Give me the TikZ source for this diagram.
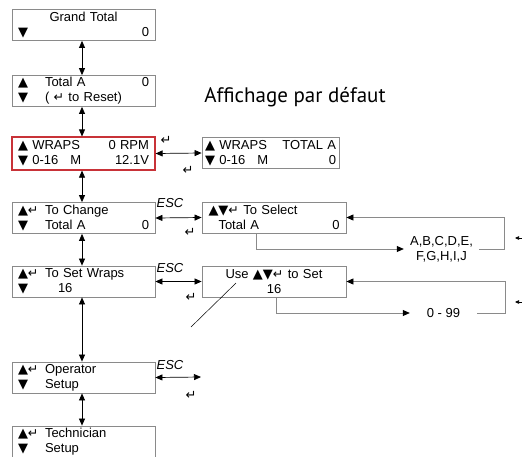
\documentclass[tikz,border=0pt]{standalone}
\usepackage{fontspec}
\setmainfont{Liberation Sans}
\newfontfamily\glyphfont{DejaVu Sans}
\newfontfamily\titlefont{PT Sans}
\usetikzlibrary{arrows.meta}

\definecolor{boxgray}{RGB}{138,138,138}
\definecolor{wrapred}{RGB}{200,50,56}

\newcommand\tup{{\glyphfont\fontsize{13}{13}\selectfont ▲}}
\newcommand\tdn{{\glyphfont\fontsize{13}{13}\selectfont ▼}}
\newcommand\ret{{\glyphfont\fontsize{12.5}{12.5}\selectfont ↵}}
\newcommand\col[1]{\makebox[27pt][l]{#1}}

\tikzset{
  lcd/.style={draw=boxgray, line width=0.8pt, text width=131pt, minimum height=31pt,
    inner xsep=6pt, inner ysep=1pt, align=left, font=\fontsize{13}{15}\selectfont},
  nav/.style={line width=0.7pt, {Triangle[length=7pt,width=6pt]}-{Triangle[length=7pt,width=6pt]}},
  loopline/.style={draw=boxgray, line width=0.8pt},
  tip/.style={-{Triangle[length=7pt,width=6pt,color=black]}},
  esc/.style={font=\fontsize{13}{13}\selectfont\itshape, inner sep=0pt},
  enter/.style={inner sep=0pt, font=\glyphfont\fontsize{13}{13}\selectfont},
  choice/.style={font=\fontsize{13}{15}\selectfont, align=center, inner ysep=1pt}
}

\begin{document}
\begin{tikzpicture}[x=1pt,y=-1pt]
  \useasboundingbox (0,0) rectangle (522,456);

  % left column of screens
  \node[lcd] (gt) at (83.5,25) {\makebox[\linewidth]{Grand Total}\\\tdn\hfill 0};
  \node[lcd] (ta) at (83.5,91) {\col{\tup}Total A\hfill 0\\\col{\tdn}( \ret\ to Reset)};
  \node[lcd, draw=wrapred, line width=1.2pt, minimum height=33pt] (wr) at (83.5,153.5)
    {\tup\ WRAPS\hfill 0 RPM\\\tdn\ 0-16\hspace{12pt}M\hfill 12.1V};
  \node[lcd] (tc) at (83.5,218) {\col{\tup\ret}To Change\\\col{\tdn}Total A\hfill 0\hspace{12pt}};
  \node[lcd] (sw) at (83.5,281.5) {\col{\tup\ret}To Set Wraps\\\col{\tdn}\hspace{13pt}16};
  \node[lcd] (op) at (83.5,377.5) {\col{\tup\ret}Operator\\\col{\tdn}Setup};
  \node[lcd] (te) at (83.5,441.5) {\col{\tup\ret}Technician\\\col{\tdn}Setup};

  \foreach \a/\b in {gt/ta,ta/wr,wr/tc,tc/sw,sw/op,op/te}
    \draw[nav] ([xshift=-1.5pt]\a.south) -- ([xshift=-1.5pt]\b.north);

  % right side screens
  \node[font=\titlefont\fontsize{21}{21}\selectfont] (title) at (295,97) {Affichage par défaut};
  \node[lcd, text width=131pt, inner xsep=3pt] (wt) at (270.5,153)
    {\tup\ WRAPS\hfill TOTAL A\\\tdn\ 0-16\hspace{12pt}M\hfill 0};
  \node[lcd, inner xsep=6.5pt] (ts) at (274,217.5) {\tup\tdn\ret\ To Select\\\hspace{10pt}Total A\hfill 0};
  \node[lcd, inner xsep=6.5pt, align=center] (us) at (274,281.5) {Use \tup\tdn\ret\ to Set\\16};

  \coordinate (opend) at (201,377);
  \draw[nav] (wr.east) -- (wt.west);
  \draw[nav] (tc.east) -- (ts.west);
  \draw[nav] (sw.east) -- (us.west);
  \draw[nav] (op.east) -- (opend);

  \node[esc] (esc1) at (170,203) {ESC};
  \node[esc] (esc2) at (170,268) {ESC};
  \node[esc] (esc3) at (170,365) {ESC};

  \node[enter] (en1) at (166,140) {↵};
  \node[enter] (en2) at (188,170) {↵};
  \node[enter] (en3) at (190,232) {↵};
  \node[enter] (en4) at (191,297) {↵};
  \node[enter] (en5) at (191,395) {↵};

  % value loops
  \node[choice, minimum width=75pt] (abc) at (441.5,249) {A,B,C,D,E,\\F,G,H,I,J};
  \node[choice, minimum width=67pt] (num) at (443.5,313) {0 - 99};
  \draw[loopline, tip] ([xshift=-18pt]ts.south) |- (abc.west);
  \draw[loopline, tip] (abc.east) -- ++(25,0) |- (ts.east);
  \draw[loopline, tip] ([xshift=2pt]us.south) |- (num.west);
  \draw[loopline, tip] (num.east) -- ++(28,0) |- (us.east);

  \coordinate (cut1) at (523,238); \coordinate (cut1e) at (515,238);
  \coordinate (cut2) at (523,302); \coordinate (cut2e) at (515,302);
  \draw[line width=0.6pt, -{Triangle[length=4pt,width=3.5pt]}] (cut1) -- (cut1e);
  \draw[line width=0.6pt, -{Triangle[length=4pt,width=3.5pt]}] (cut2) -- (cut2e);

  \coordinate (slash1) at (236,283); \coordinate (slash2) at (191,327);
  \draw[line width=0.5pt] (slash1) -- (slash2);
\end{tikzpicture}
\end{document}
